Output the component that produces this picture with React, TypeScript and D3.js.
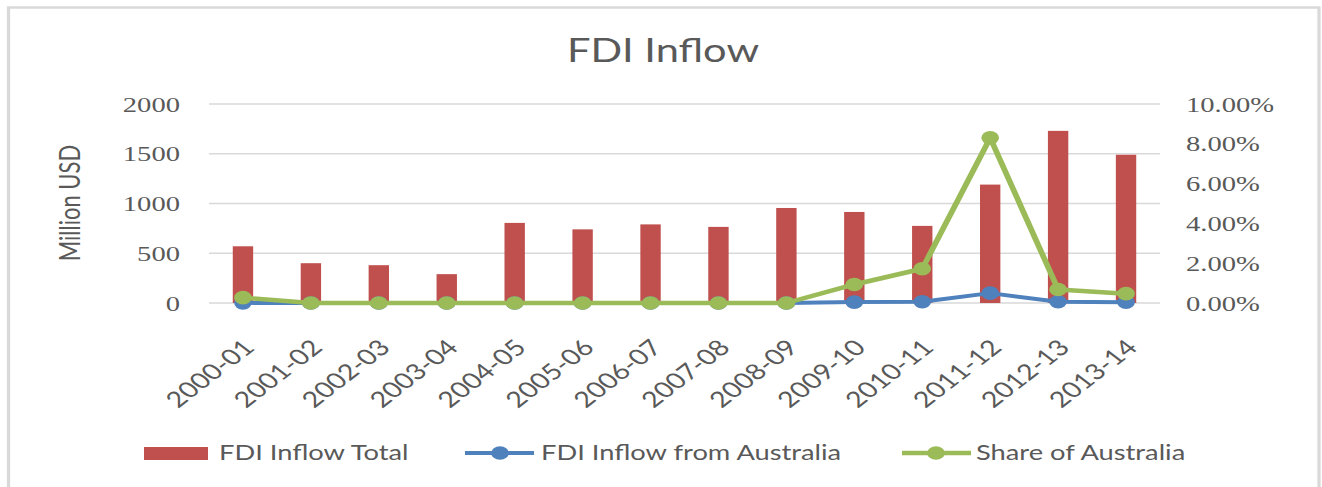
import React from "react";
import { scaleBand, scaleLinear, line } from "d3";

// reference picture is stretched sideways, so draw in a narrower box and let the svg stretch it
const SX = 1.3;
const W = 1322 / SX;
const H = 487;

const categories = [
  "2000-01", "2001-02", "2002-03", "2003-04", "2004-05", "2005-06", "2006-07",
  "2007-08", "2008-09", "2009-10", "2010-11", "2011-12", "2012-13", "2013-14",
];
const fdiTotal = [570, 400, 380, 290, 805, 740, 790, 765, 955, 915, 775, 1190, 1730, 1490];
const fdiAustralia = [1.5, 0, 0, 0, 0, 0, 0, 0, 0, 9, 13, 99, 12, 7];
const shareAustralia = [0.27, 0, 0, 0, 0, 0, 0, 0, 0, 0.93, 1.72, 8.3, 0.68, 0.47];

const leftTicks = [0, 500, 1000, 1500, 2000];
const rightTicks = [0, 2, 4, 6, 8, 10];

const RED = "#C0504D";
const BLUE = "#4F81BD";
const GREEN = "#9BBB59";
const TEXT = "#595959";
const GRID = "#d9d9d9";
const SANS = "Lato, 'Open Sans', sans-serif";
const SERIF = "'Liberation Serif', 'DejaVu Serif', serif";

const margin = { left: 209 / SX, right: 1160 / SX, top: 104, bottom: 303 };

export default function App() {
  const x = scaleBand<string>().domain(categories).range([margin.left, margin.right]);
  const yLeft = scaleLinear().domain([0, 2000]).range([margin.bottom, margin.top]);
  const yRight = scaleLinear().domain([0, 10]).range([margin.bottom, margin.top]);
  const cx = (c: string) => (x(c) ?? 0) + x.bandwidth() / 2;
  const barW = x.bandwidth() * 0.3;

  const blueLine = line<number>()
    .x((_, i) => cx(categories[i]))
    .y((d) => yLeft(d));
  const greenLine = line<number>()
    .x((_, i) => cx(categories[i]))
    .y((d) => yRight(d));

  return (
    <svg
      width={1322}
      height={H}
      viewBox={`0 0 ${W} ${H}`}
      preserveAspectRatio="none"
      style={{ position: "absolute", left: 0, top: 0, background: "#fff" }}
    >
      {/* chart frame */}
      <rect x={8.5 / SX} y={7.5} width={(1319 - 8.5) / SX} height={520} fill="none" stroke={GRID} strokeWidth={2.5} />

      <text x={663 / SX} y={62} textAnchor="middle" fontFamily={SANS} fontSize={32} fill={TEXT}>
        FDI Inflow
      </text>

      {/* gridlines */}
      {leftTicks.map((t) => (
        <line key={t} x1={margin.left} x2={margin.right} y1={yLeft(t)} y2={yLeft(t)} stroke={GRID} strokeWidth={1.3} />
      ))}

      {/* left axis labels */}
      {leftTicks.map((t) => (
        <text key={t} x={180 / SX} y={yLeft(t)} dy="0.35em" textAnchor="end" fontFamily={SERIF} fontSize={22} fill={TEXT}>
          {t}
        </text>
      ))}

      {/* right axis labels */}
      {rightTicks.map((t) => (
        <text key={t} x={1186 / SX} y={yRight(t)} dy="0.35em" fontFamily={SERIF} fontSize={22} fill={TEXT}>
          {t.toFixed(2)}%
        </text>
      ))}

      <text
        transform={`translate(${80 / SX},${203}) rotate(-90)`}
        textAnchor="middle"
        fontFamily={SANS}
        fontSize={22}
        fill={TEXT}
      >
        Million USD
      </text>

      {/* bars */}
      {fdiTotal.map((v, i) => (
        <rect
          key={categories[i]}
          x={cx(categories[i]) - barW / 2}
          y={yLeft(v)}
          width={barW}
          height={yLeft(0) - yLeft(v)}
          fill={RED}
        />
      ))}

      {/* FDI from Australia */}
      <path d={blueLine(fdiAustralia) ?? ""} fill="none" stroke={BLUE} strokeWidth={4} strokeLinejoin="round" />
      {fdiAustralia.map((v, i) => (
        <circle key={i} cx={cx(categories[i])} cy={yLeft(v)} r={6.8} fill={BLUE} />
      ))}

      {/* share of Australia */}
      <path d={greenLine(shareAustralia) ?? ""} fill="none" stroke={GREEN} strokeWidth={4.5} strokeLinejoin="round" />
      {shareAustralia.map((v, i) => (
        <circle key={i} cx={cx(categories[i])} cy={yRight(v)} r={6.8} fill={GREEN} />
      ))}

      {/* x axis labels */}
      {categories.map((c) => (
        <text
          key={c}
          transform={`translate(${cx(c) + 10},${349}) rotate(-45)`}
          textAnchor="end"
          fontFamily={SANS}
          fontSize={22}
          fill={TEXT}
        >
          {c}
        </text>
      ))}

      {/* legend */}
      <g fontFamily={SANS} fontSize={21} fill={TEXT}>
        <rect x={144 / SX} y={447} width={64 / SX} height={13} fill={RED} />
        <text x={219 / SX} y={460}>FDI Inflow Total</text>

        <line x1={465 / SX} x2={534 / SX} y1={453} y2={453} stroke={BLUE} strokeWidth={4} />
        <circle cx={500 / SX} cy={453} r={6.8} fill={BLUE} />
        <text x={541 / SX} y={460}>FDI Inflow from Australia</text>

        <line x1={902 / SX} x2={971 / SX} y1={453} y2={453} stroke={GREEN} strokeWidth={4.5} />
        <circle cx={936 / SX} cy={453} r={6.8} fill={GREEN} />
        <text x={976 / SX} y={460}>Share of Australia</text>
      </g>
    </svg>
  );
}
